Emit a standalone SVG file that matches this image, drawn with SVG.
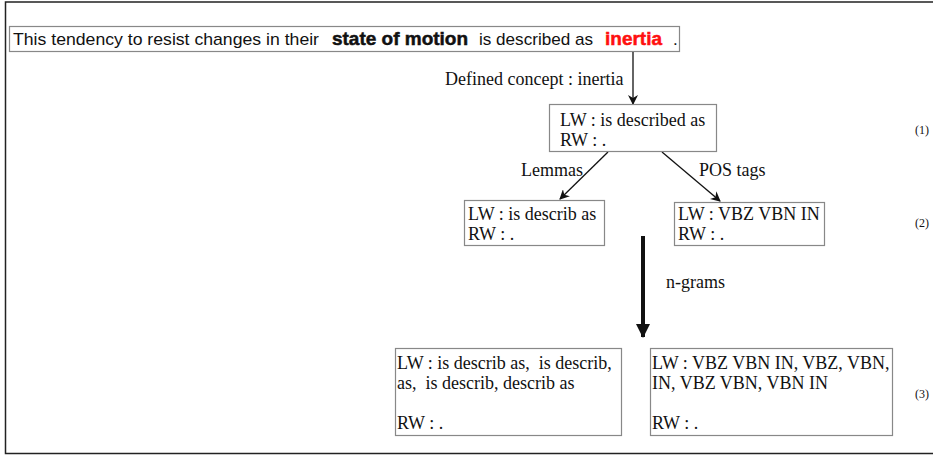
<svg xmlns="http://www.w3.org/2000/svg" width="933" height="456" viewBox="0 0 933 456">
<style>
.frame{fill:none;stroke:#222;stroke-width:1.5}
.box{fill:#fff;stroke:#888;stroke-width:1.2}
.t{font-family:"Liberation Serif","Times New Roman",serif;font-size:18px;fill:#111;white-space:pre}
.s{font-family:"Liberation Sans",Arial,sans-serif;font-size:17px;fill:#111}
.sb{font-family:"Liberation Sans",Arial,sans-serif;font-size:19px;font-weight:bold;fill:#111;stroke:#111;stroke-width:0.5}
.red{fill:#ff1010;stroke:#ff1010}
.num{font-family:"Liberation Serif","Times New Roman",serif;font-size:12px;fill:#111}
.ln{stroke:#111;stroke-width:1.3;fill:none}
</style>
<defs>
<marker id="ah" markerWidth="10" markerHeight="10" refX="9" refY="5" orient="auto" markerUnits="userSpaceOnUse">
<path d="M0,0 L10,5 L0,10 L3,5 Z" fill="#111"/>
</marker>
<marker id="ahb" markerWidth="14" markerHeight="18" refX="13" refY="9" orient="auto" markerUnits="userSpaceOnUse">
<path d="M0,2 L14,9 L0,16 Z" fill="#111"/>
</marker>
</defs>
<rect class="frame" x="5.5" y="2" width="940" height="451.5"/>
<g id="sentence">
<rect class="box" x="9.5" y="26.5" width="670" height="25"/>
<text class="s" x="13" y="45" textLength="306" lengthAdjust="spacingAndGlyphs">This tendency to resist changes in their</text>
<text class="sb" x="332" y="45" textLength="136" lengthAdjust="spacingAndGlyphs">state of motion</text>
<text class="s" x="479" y="45" textLength="114" lengthAdjust="spacingAndGlyphs">is described as</text>
<text class="sb red" x="605" y="45" textLength="57" lengthAdjust="spacingAndGlyphs">inertia</text>
<text class="s" x="673" y="45">.</text>
</g>
<g id="connectors">
<line class="ln" x1="633" y1="52" x2="633" y2="104" marker-end="url(#ah)"/>
<line class="ln" x1="608" y1="152" x2="560" y2="199" marker-end="url(#ah)"/>
<line class="ln" x1="662" y1="152" x2="720" y2="201" marker-end="url(#ah)"/>
<line stroke="#111" stroke-width="4" x1="643" y1="236" x2="643" y2="337" marker-end="url(#ahb)"/>
<text class="t" x="445" y="85">Defined concept : inertia</text>
<text class="t" x="521" y="176">Lemmas</text>
<text class="t" x="699" y="176">POS tags</text>
<text class="t" x="666" y="288">n-grams</text>
</g>
<g id="node1">
<rect class="box" x="549.5" y="104.5" width="167" height="47"/>
<text class="t" x="560" y="126">LW : is described as</text>
<text class="t" x="560" y="146">RW : .</text>
</g>
<g id="node2a">
<rect class="box" x="464.5" y="200.5" width="140" height="45"/>
<text class="t" x="468" y="220">LW : is describ as</text>
<text class="t" x="468" y="240">RW : .</text>
</g>
<g id="node2b">
<rect class="box" x="674.5" y="202.5" width="150" height="43"/>
<text class="t" x="678" y="220">LW : VBZ VBN IN</text>
<text class="t" x="678" y="240">RW : .</text>
</g>
<g id="node3a">
<rect class="box" x="395.5" y="348.5" width="226" height="87"/>
<text class="t" x="397" y="369">LW : is describ as,  is describ,</text>
<text class="t" x="397" y="389">as,  is describ, describ as</text>
<text class="t" x="397" y="429">RW : .</text>
</g>
<g id="node3b">
<rect class="box" x="650.5" y="348.5" width="242" height="87"/>
<text class="t" x="652" y="369">LW : VBZ VBN IN, VBZ, VBN,</text>
<text class="t" x="652" y="389">IN, VBZ VBN, VBN IN</text>
<text class="t" x="652" y="429">RW : .</text>
</g>
<g id="labels">
<text class="num" x="915" y="134">(1)</text>
<text class="num" x="915" y="227">(2)</text>
<text class="num" x="915" y="398">(3)</text>
</g>
</svg>
